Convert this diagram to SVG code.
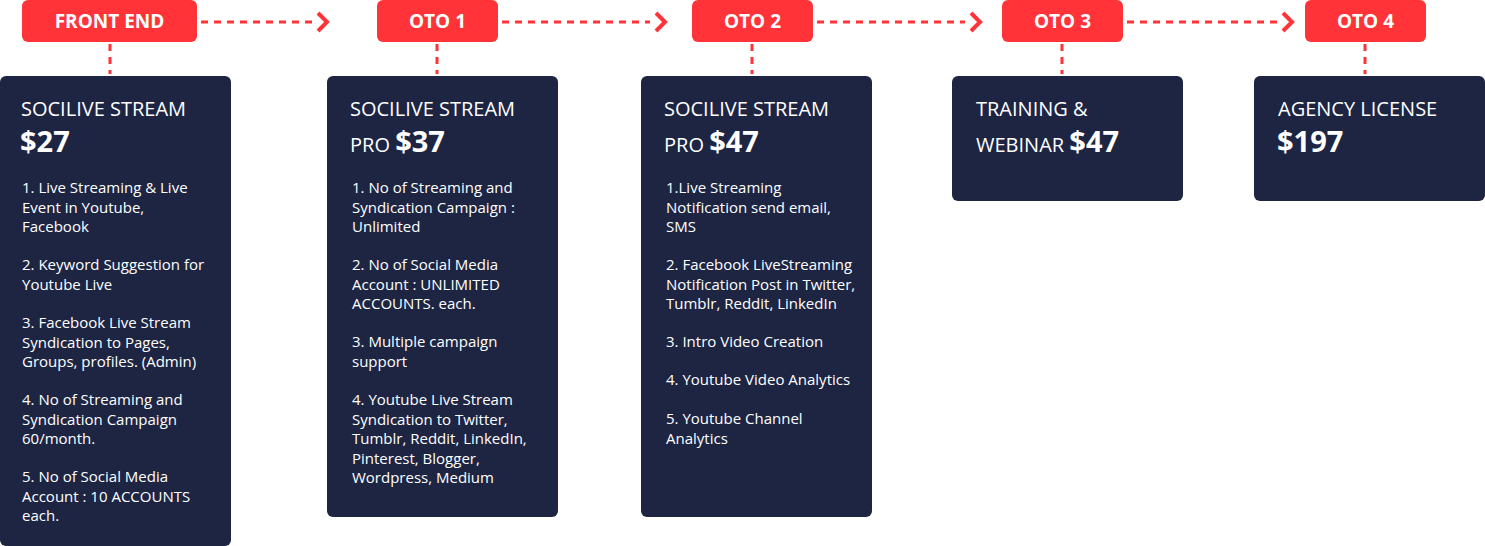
<svg xmlns="http://www.w3.org/2000/svg" width="1485" height="546" viewBox="0 0 1485 546">
<style>
.pill{fill:#ff3338}
.pt{font-family:"Open Sans",sans-serif;font-weight:700;font-size:19px;fill:#fff;text-anchor:middle}
.box{fill:#1d2543}
.t{font-family:"Open Sans",sans-serif;font-size:20px;fill:#fff}
.p{font-family:"Open Sans",sans-serif;font-size:29px;font-weight:700;fill:#fff}
.i{font-family:"Open Sans",sans-serif;font-size:15px;fill:#fff}
.d{stroke:#ff3338;stroke-width:3;stroke-dasharray:7,6;fill:none}
.c{stroke:#ff3338;stroke-width:4;fill:none}
</style>
<g id="connectors">
<path class="d" d="M201 22H312M502 22H650M817 22H965M1127 22H1278"/>
<path class="c" d="M318 13l9 9l-9 9M656 13l9 9l-9 9M971 13l9 9l-9 9M1283 13l9 9l-9 9"/>
<path class="d" d="M110 44V74M437 44V74M752 44V74M1062 44V74M1365 44V74"/>
</g>
<g id="fe"><rect class="pill" x="22" y="0" width="175" height="42" rx="6"/><text class="pt" x="109.5" y="28">FRONT END</text>
<rect class="box" x="0" y="76" width="231" height="470" rx="6"/>
<text class="t" x="21" y="116">SOCILIVE STREAM</text><text class="p" x="20" y="152">$27</text>
<text class="i"><tspan x="22" y="193">1. Live Streaming &amp; Live</tspan><tspan x="22" y="212.5">Event in Youtube,</tspan><tspan x="22" y="232">Facebook</tspan>
<tspan x="22" y="270">2. Keyword Suggestion for</tspan><tspan x="22" y="289.5">Youtube Live</tspan>
<tspan x="22" y="328">3. Facebook Live Stream</tspan><tspan x="22" y="347.5">Syndication to Pages,</tspan><tspan x="22" y="367">Groups, profiles. (Admin)</tspan>
<tspan x="22" y="405">4. No of Streaming and</tspan><tspan x="22" y="424.5">Syndication Campaign</tspan><tspan x="22" y="444">60/month.</tspan>
<tspan x="22" y="482">5. No of Social Media</tspan><tspan x="22" y="501.5">Account : 10 ACCOUNTS</tspan><tspan x="22" y="521">each.</tspan></text></g>
<g id="oto1"><rect class="pill" x="377" y="0" width="121" height="42" rx="6"/><text class="pt" x="437.5" y="28">OTO 1</text>
<rect class="box" x="327" y="76" width="231" height="441" rx="6"/>
<text class="t" x="350" y="116">SOCILIVE STREAM</text><text class="t" x="350" y="152">PRO <tspan class="p">$37</tspan></text>
<text class="i"><tspan x="352" y="193">1. No of Streaming and</tspan><tspan x="352" y="212.5">Syndication Campaign :</tspan><tspan x="352" y="232">Unlimited</tspan>
<tspan x="352" y="270">2. No of Social Media</tspan><tspan x="352" y="289.5">Account : UNLIMITED</tspan><tspan x="352" y="309">ACCOUNTS. each.</tspan>
<tspan x="352" y="347">3. Multiple campaign</tspan><tspan x="352" y="366.5">support</tspan>
<tspan x="352" y="405">4. Youtube Live Stream</tspan><tspan x="352" y="424.5">Syndication to Twitter,</tspan><tspan x="352" y="444">Tumblr, Reddit, LinkedIn,</tspan><tspan x="352" y="463.5">Pinterest, Blogger,</tspan><tspan x="352" y="483">Wordpress, Medium</tspan></text></g>
<g id="oto2"><rect class="pill" x="692" y="0" width="121" height="42" rx="6"/><text class="pt" x="752.5" y="28">OTO 2</text>
<rect class="box" x="641" y="76" width="231" height="441" rx="6"/>
<text class="t" x="664" y="116">SOCILIVE STREAM</text><text class="t" x="664" y="152">PRO <tspan class="p">$47</tspan></text>
<text class="i"><tspan x="666" y="193">1.Live Streaming</tspan><tspan x="666" y="212.5">Notification send email,</tspan><tspan x="666" y="232">SMS</tspan>
<tspan x="666" y="270">2. Facebook LiveStreaming</tspan><tspan x="666" y="289.5">Notification Post in Twitter,</tspan><tspan x="666" y="309">Tumblr, Reddit, LinkedIn</tspan>
<tspan x="666" y="347">3. Intro Video Creation</tspan>
<tspan x="666" y="385">4. Youtube Video Analytics</tspan>
<tspan x="666" y="424">5. Youtube Channel</tspan><tspan x="666" y="443.5">Analytics</tspan></text></g>
<g id="oto3"><rect class="pill" x="1002" y="0" width="121" height="42" rx="6"/><text class="pt" x="1062.5" y="28">OTO 3</text>
<rect class="box" x="952" y="76" width="231" height="125" rx="6"/>
<text class="t" x="976" y="116">TRAINING &amp;</text><text class="t" x="976" y="152">WEBINAR  <tspan class="p">$47</tspan></text></g>
<g id="oto4"><rect class="pill" x="1305" y="0" width="121" height="42" rx="6"/><text class="pt" x="1365.5" y="28">OTO 4</text>
<rect class="box" x="1254" y="76" width="231" height="125" rx="6"/>
<text class="t" x="1278" y="116">AGENCY LICENSE</text><text class="p" x="1277" y="152">$197</text></g>
</svg>
